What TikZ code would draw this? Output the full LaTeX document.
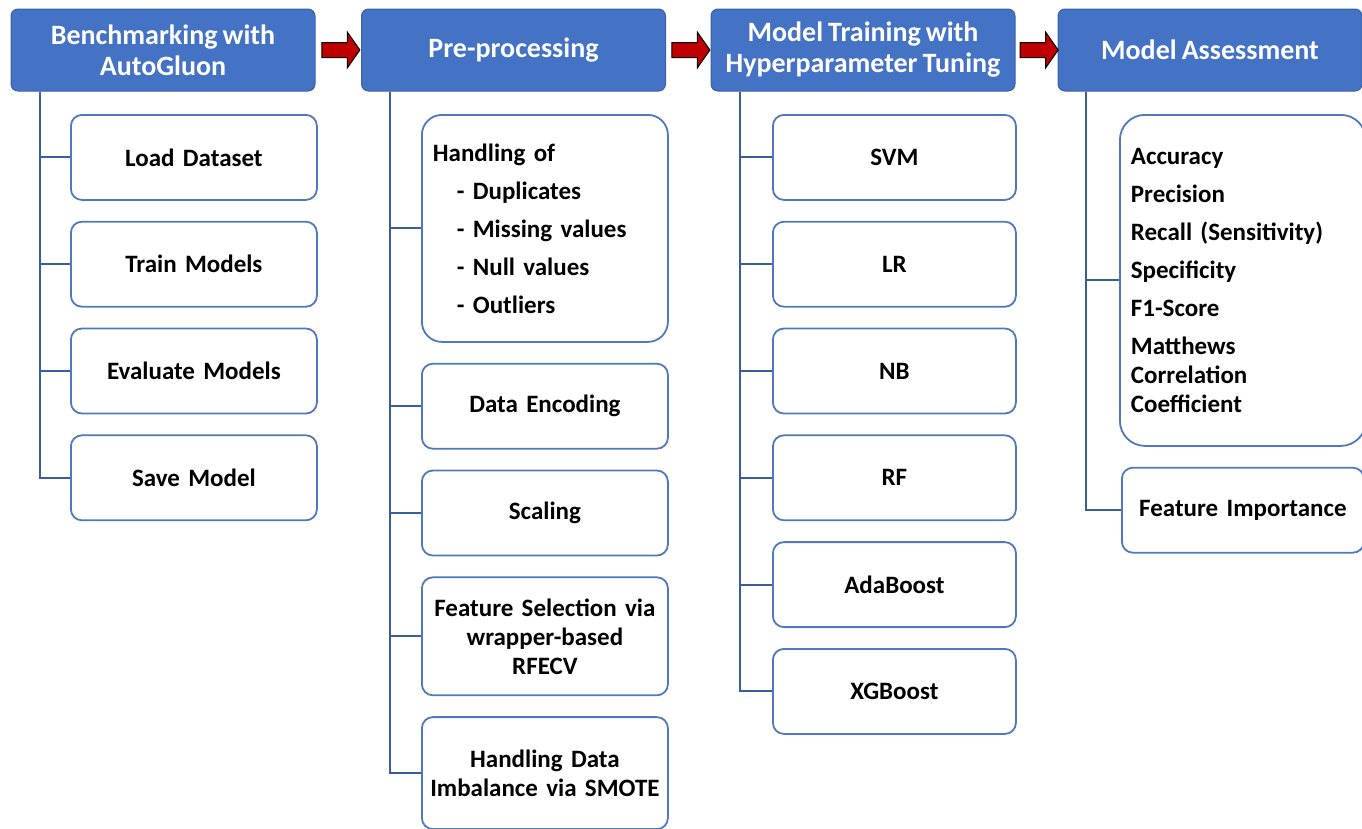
\documentclass[tikz,border=0pt]{standalone}
\usepackage{fontspec}
\setmainfont{Carlito}[WordSpace=0.8]
\usetikzlibrary{positioning,calc,shapes.arrows}
\definecolor{headblue}{HTML}{4472C4}
\definecolor{boxblue}{HTML}{5078BE}
\definecolor{treeblue}{HTML}{3A5E9C}
\definecolor{arrowred}{HTML}{C00000}
\begin{document}
\begin{tikzpicture}[x=1pt,y=-1pt,node distance=20pt,
  stage/.style={draw=headblue!85!black,line width=1pt,fill=headblue,rounded corners=7pt,
    minimum width=304pt,minimum height=82pt,align=center,text=white,
    font=\fontsize{28}{31}\selectfont\bfseries},
  task/.style={draw=boxblue,line width=1.8pt,fill=white,rounded corners=11pt,
    minimum width=246pt,minimum height=85pt,text width=230pt,align=center,
    font=\fontsize{25}{29}\selectfont\bfseries},
  listbox/.style={task,align=left,inner xsep=11pt,text width=224pt},
  tree/.style={draw=treeblue,line width=2pt},
  flow/.style={single arrow,draw=black,line width=1pt,fill=arrowred,inner xsep=0pt,inner ysep=7pt,
    minimum width=0pt,minimum height=38pt,single arrow head extend=10.5pt,single arrow tip angle=110}]
\useasboundingbox (0,0) rectangle (1362,828);
% stage headers
\node (bench) [stage] at (163,50)   {Benchmarking with\\AutoGluon};
\node (prep)  [stage] at (513.5,50) {Pre-processing};
\node (train) [stage] at (863,50)   {Model Training with\\Hyperparameter Tuning};
\node (assess)[stage] at (1210,50)  {Model Assessment};
\node (a1) [flow] at ($(bench.east)!0.5!(prep.west)$) {};
\node (a2) [flow] at ($(prep.east)!0.5!(train.west)$) {};
\node (a3) [flow] at ($(train.east)!0.5!(assess.west)$) {};
% benchmarking
\node (load) [task,anchor=north west] at (70,114) {Load Dataset};
\node (fit)  [task,below=of load] {Train Models};
\node (eval) [task,below=of fit]  {Evaluate Models};
\node (save) [task,below=of eval] {Save Model};
% pre-processing
\node (clean) [listbox,anchor=north west,minimum height=227pt,rounded corners=20pt] at (421,114)
  {Handling of\\[9pt]\hspace*{24pt}- Duplicates\\[9pt]\hspace*{24pt}- Missing values\\[9pt]\hspace*{24pt}- Null values\\[9pt]\hspace*{24pt}- Outliers};
\node (enc)   [task,below=of clean] {Data Encoding};
\node (scale) [task,below=of enc]   {Scaling};
\node (fsel)  [task,below=of scale,minimum height=118pt] {Feature Selection via\\wrapper-based\\RFECV};
\node (smote) [task,below=of fsel,minimum height=112pt]  {Handling Data\\Imbalance via SMOTE};
% model training
\node (svm) [task,anchor=north west,minimum width=243pt] at (772,114) {SVM};
\node (lr)  [task,below=of svm,minimum width=243pt] {LR};
\node (nb)  [task,below=of lr,minimum width=243pt]  {NB};
\node (rf)  [task,below=of nb,minimum width=243pt]  {RF};
\node (ada) [task,below=of rf,minimum width=243pt]  {AdaBoost};
\node (xgb) [task,below=of ada,minimum width=243pt] {XGBoost};
% assessment
\node (metrics) [listbox,anchor=north west,minimum width=242pt,minimum height=331pt,rounded corners=25pt] at (1119,114)
  {Accuracy\\[9pt]Precision\\[9pt]Recall (Sensitivity)\\[9pt]Specificity\\[9pt]F1-Score\\[9pt]Matthews\\Correlation\\Coefficient};
\node (imp) [task,below=of metrics,minimum width=242pt] {Feature Importance};
% tree lines
\coordinate (t1) at ($(bench.south west)+(29,0)$);
\coordinate (t2) at ($(prep.south west)+(29,0)$);
\coordinate (t3) at ($(train.south west)+(29,0)$);
\coordinate (t4) at ($(assess.south west)+(28,0)$);
\draw[tree] (t1) |- (save.west);
\draw[tree] (t1 |- load.west) -- (load.west);
\draw[tree] (t1 |- fit.west) -- (fit.west);
\draw[tree] (t1 |- eval.west) -- (eval.west);
\draw[tree] (t2) |- (smote.west);
\draw[tree] (t2 |- clean.west) -- (clean.west);
\draw[tree] (t2 |- enc.west) -- (enc.west);
\draw[tree] (t2 |- scale.west) -- (scale.west);
\draw[tree] (t2 |- fsel.west) -- (fsel.west);
\draw[tree] (t3) |- (xgb.west);
\draw[tree] (t3 |- svm.west) -- (svm.west);
\draw[tree] (t3 |- lr.west) -- (lr.west);
\draw[tree] (t3 |- nb.west) -- (nb.west);
\draw[tree] (t3 |- rf.west) -- (rf.west);
\draw[tree] (t3 |- ada.west) -- (ada.west);
\draw[tree] (t4) |- (imp.west);
\draw[tree] (t4 |- metrics.west) -- (metrics.west);
\end{tikzpicture}
\end{document}
